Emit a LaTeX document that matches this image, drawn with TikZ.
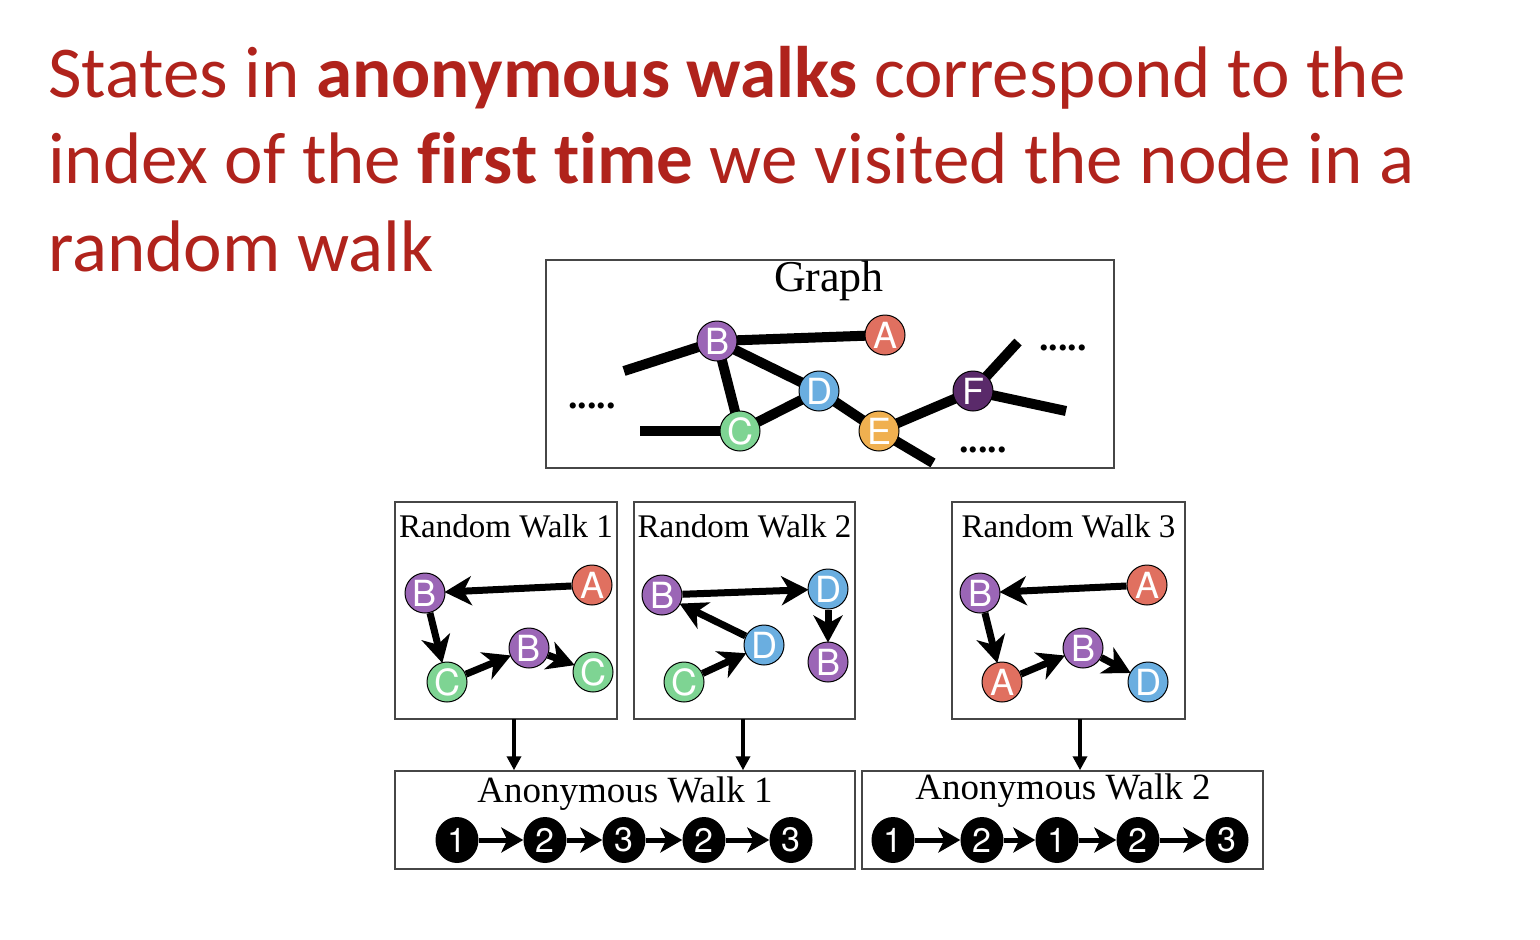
\documentclass[tikz,border=0pt]{standalone}
\usepackage{fontspec}
\setmainfont{Liberation Serif}
\newfontfamily\titlefont[Ligatures={NoCommon,NoRare,NoDiscretionary}]{Carlito}
\newfontfamily\heros{TeX Gyre Heros}
\usetikzlibrary{arrows.meta,backgrounds,shapes.geometric}
\pgfdeclarelayer{edges}
\pgfsetlayers{background,edges,main}
\definecolor{titlered}{RGB}{176,35,28}
\definecolor{cB}{RGB}{155,102,182}
\definecolor{cA}{RGB}{224,112,96}
\definecolor{cC}{RGB}{126,212,147}
\definecolor{cD}{RGB}{106,174,224}
\definecolor{cE}{RGB}{240,176,80}
\definecolor{cF}{RGB}{90,42,106}
\definecolor{boxgray}{RGB}{70,70,70}
\tikzset{
  x=1pt, y=-1pt,
  gnode/.style={circle, draw=black, line width=1pt, minimum size=40pt, inner sep=0pt,
    text=white, font=\heros\fontsize{36}{36}\selectfont},
  anode/.style={ellipse, fill=black, minimum width=43pt, minimum height=46pt, inner sep=0pt,
    text=white, font=\heros\fontsize{34}{34}\selectfont},
  frame/.style={draw=boxgray, line width=1.5pt, inner sep=0pt},
  gedge/.style={line width=10pt},
  walkarrow/.style={line width=7pt, -{Stealth[length=27pt,width=29pt,inset=8pt]}, shorten >=-1pt},
  awarrow/.style={line width=5pt, -{Stealth[length=22pt,width=25pt,inset=6pt]}},
  downarrow/.style={line width=4.5pt, -{Triangle[length=14pt,width=14pt]}},
  boxtitle/.style={font=\fontsize{33}{33}\selectfont, inner sep=0pt},
  awtitle/.style={font=\fontsize{37}{37}\selectfont, inner sep=0pt},
  dots/.style={font=\bfseries\fontsize{38}{38}\selectfont, inner sep=0pt},
  title/.style={font=\titlefont\fontsize{73}{87}\selectfont, text=titlered, anchor=base west, inner sep=0pt}
}
\begin{document}
\begin{tikzpicture}
\begin{pgfonlayer}{background}
\fill[white] (0,0) rectangle (1540,940);
\end{pgfonlayer}
\useasboundingbox (0,0) rectangle (1540,940);

% title
\node[title] (t1) at (48,97) {States in \textbf{anonymous walks} correspond to the};
\node[title] (t2) at (48,183) {index of the \textbf{first time} we visited the node in a};
\node[title] (t3) at (48,271) {random walk};

% graph box
\node[frame, minimum width=568pt, minimum height=208pt] (gbox) at (830,364) {};
\node[font=\fontsize{44}{44}\selectfont, inner sep=0pt] (glabel) at (829,281) {Graph};
\node[gnode, fill=cB] (gB) at (717,341) {B};
\node[gnode, fill=cA] (gA) at (885,335) {A};
\node[gnode, fill=cD] (gD) at (819,391) {D};
\node[gnode, fill=cC] (gC) at (740,431) {C};
\node[gnode, fill=cE] (gE) at (879,431) {E};
\node[gnode, fill=cF] (gF) at (973,391) {F};
\coordinate (gL1) at (624,371);
\coordinate (gL2) at (640,431);
\coordinate (gE1) at (933,463);
\coordinate (gF1) at (1018,342);
\coordinate (gF2) at (1066,411);
\begin{pgfonlayer}{edges}
\draw[gedge] (gL1) -- (gB.center);
\draw[gedge] (gB.center) -- (gA.center);
\draw[gedge] (gB.center) -- (gD.center);
\draw[gedge] (gB.center) -- (gC.center);
\draw[gedge] (gL2) -- (gC.center);
\draw[gedge] (gC.center) -- (gD.center);
\draw[gedge] (gD.center) -- (gE.center);
\draw[gedge] (gE.center) -- (gF.center);
\draw[gedge] (gE.center) -- (gE1);
\draw[gedge] (gF.center) -- (gF1);
\draw[gedge] (gF.center) -- (gF2);
\end{pgfonlayer}
\node[dots] (dot1) at (592,406) {.....};
\node[dots] (dot2) at (1063,348) {.....};
\node[dots] (dot3) at (983,450) {.....};

% random walk boxes
\node[frame, minimum width=222pt, minimum height=217pt] (rw1) at (506,610.5) {};
\node[frame, minimum width=221pt, minimum height=217pt] (rw2) at (744.5,610.5) {};
\node[frame, minimum width=233pt, minimum height=217pt] (rw3) at (1068.5,610.5) {};
\node[boxtitle] (rw1t) at (506,526) {Random Walk 1};
\node[boxtitle] (rw2t) at (744.5,526) {Random Walk 2};
\node[boxtitle] (rw3t) at (1068.5,526) {Random Walk 3};

% walk 1
\node[gnode, fill=cB] (a1) at (425,593) {B};
\node[gnode, fill=cA] (a2) at (592,585) {A};
\node[gnode, fill=cC] (a3) at (447,682) {C};
\node[gnode, fill=cB] (a4) at (529,648) {B};
\node[gnode, fill=cC] (a5) at (593,672) {C};
\draw[walkarrow] (a2) -- (a1);
\draw[walkarrow] (a1) -- (a3);
\draw[walkarrow] (a3) -- (a4);
\draw[walkarrow] (a4) -- (a5);

% walk 2
\node[gnode, fill=cB] (b1) at (662,595) {B};
\node[gnode, fill=cD] (b2) at (828,589) {D};
\node[gnode, fill=cD] (b3) at (764,645) {D};
\node[gnode, fill=cC] (b4) at (684,682) {C};
\node[gnode, fill=cB] (b5) at (828,662) {B};
\draw[walkarrow] (b1) -- (b2);
\draw[walkarrow] (b2) -- (b5);
\draw[walkarrow] (b3) -- (b1);
\draw[walkarrow] (b4) -- (b3);

% walk 3
\node[gnode, fill=cB] (c1) at (980,593) {B};
\node[gnode, fill=cA] (c2) at (1147,585) {A};
\node[gnode, fill=cA] (c3) at (1002,682) {A};
\node[gnode, fill=cB] (c4) at (1083,648) {B};
\node[gnode, fill=cD] (c5) at (1148,682) {D};
\draw[walkarrow] (c2) -- (c1);
\draw[walkarrow] (c1) -- (c3);
\draw[walkarrow] (c3) -- (c4);
\draw[walkarrow] (c4) -- (c5);

% anonymous walk boxes
\node[frame, minimum width=460pt, minimum height=98pt] (aw1) at (625,820) {};
\node[frame, minimum width=401pt, minimum height=98pt] (aw2) at (1062.5,820) {};
\node[awtitle] (aw1t) at (625,794) {Anonymous Walk 1};
\node[awtitle] (aw2t) at (1063,791) {Anonymous Walk 2};

% down arrows
\coordinate (d1) at (514,719);
\coordinate (d2) at (743,719);
\coordinate (d3) at (1080,719);
\draw[downarrow] (d1) -- (d1 |- aw1.north);
\draw[downarrow] (d2) -- (d2 |- aw1.north);
\draw[downarrow] (d3) -- (d3 |- aw2.north);

% anonymous walk 1
\node[anode] (p1) at (457,840) {1};
\node[anode] (p2) at (545,840) {2};
\node[anode] (p3) at (624,840) {3};
\node[anode] (p4) at (704,840) {2};
\node[anode] (p5) at (791,840) {3};
\draw[awarrow] (p1) -- (p2);
\draw[awarrow] (p2) -- (p3);
\draw[awarrow] (p3) -- (p4);
\draw[awarrow] (p4) -- (p5);

% anonymous walk 2
\node[anode] (q1) at (893,840) {1};
\node[anode] (q2) at (982,840) {2};
\node[anode] (q3) at (1057,840) {1};
\node[anode] (q4) at (1138,840) {2};
\node[anode] (q5) at (1227,840) {3};
\draw[awarrow] (q1) -- (q2);
\draw[awarrow] (q2) -- (q3);
\draw[awarrow] (q3) -- (q4);
\draw[awarrow] (q4) -- (q5);
\end{tikzpicture}
\end{document}
